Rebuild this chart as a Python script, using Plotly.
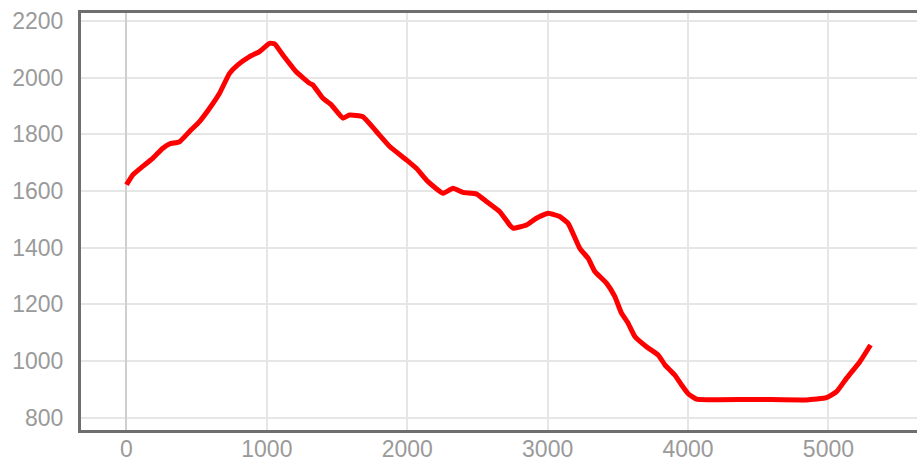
import plotly.graph_objects as go

# Elevation profile
distance = [0, 45, 116, 188, 259, 306, 378, 449, 520, 592, 663, 734, 793, 877, 948,
            1019, 1055, 1114, 1209, 1304, 1328, 1399, 1459, 1542, 1589, 1684, 1780,
            1875, 1994, 2065, 2148, 2254, 2326, 2397, 2492, 2564, 2659, 2730, 2753,
            2849, 2920, 3003, 3086, 3146, 3229, 3288, 3336, 3419, 3478, 3526, 3573,
            3621, 3704, 3787, 3835, 3906, 3954, 4001, 4061, 4227, 4488, 4845, 4987,
            5058, 5130, 5224, 5300]
elevation = [1622, 1657, 1687, 1716, 1751, 1766, 1774, 1810, 1845, 1892, 1945, 2015,
             2045, 2074, 2092, 2121, 2119, 2080, 2021, 1980, 1974, 1927, 1904, 1857,
             1868, 1862, 1810, 1757, 1710, 1680, 1633, 1592, 1610, 1595, 1590, 1563,
             1527, 1480, 1469, 1480, 1504, 1522, 1510, 1486, 1398, 1363, 1316, 1275,
             1228, 1169, 1134, 1087, 1051, 1022, 987, 951, 916, 885, 866, 864, 865,
             863, 871, 892, 940, 998, 1057]

x_ticks = [0, 1000, 2000, 3000, 4000, 5000]
y_ticks = [800, 1000, 1200, 1400, 1600, 1800, 2000, 2200]

fig = go.Figure(go.Scatter(
    x=distance, y=elevation, mode="lines",
    line=dict(color="#ff0000", width=5, shape="spline", smoothing=0.4),
    hoverinfo="skip",
))

font = dict(family="Liberation Sans, Arial, sans-serif", size=23, color="#9a9a9a")

fig.update_layout(
    width=917, height=461,
    margin=dict(l=81, r=0, t=13, b=31, autoexpand=False),
    paper_bgcolor="white", plot_bgcolor="white",
    showlegend=False,
    xaxis=dict(
        range=[-324, 5631], tickvals=x_ticks, ticktext=[str(v) for v in x_ticks],
        showgrid=True, gridcolor="#e6e6e6", gridwidth=2,
        zeroline=True, zerolinecolor="#cfcfcf", zerolinewidth=2,
        showline=True, linecolor="#6e6e6e", linewidth=3, mirror=True,
        ticks="", tickfont=font, ticklabelstandoff=-4, fixedrange=True,
        automargin=False,
    ),
    yaxis=dict(
        range=[757, 2228], tickvals=y_ticks, ticktext=[str(v) for v in y_ticks],
        showgrid=True, gridcolor="#e6e6e6", gridwidth=2,
        zeroline=False,
        showline=True, linecolor="#6e6e6e", linewidth=3, mirror=False,
        ticks="", tickfont=font, ticklabelstandoff=10, fixedrange=True,
        automargin=False,
    ),
)

fig.write_html(
    "out.html",
    config={"displayModeBar": False},
    post_script="document.body.style.margin='0';document.body.style.overflow='hidden';",
)
